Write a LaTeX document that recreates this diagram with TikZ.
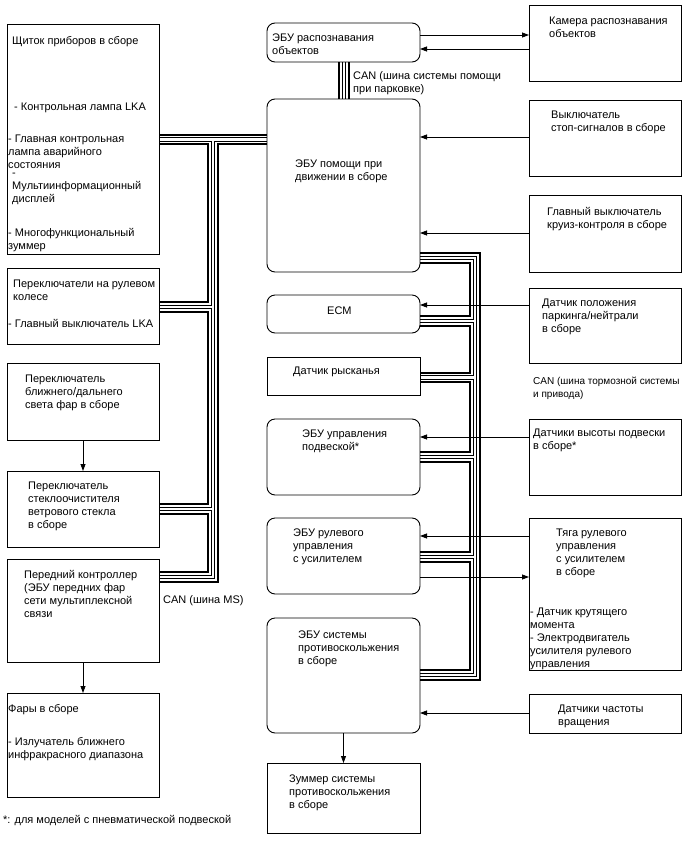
\documentclass[tikz,border=0pt]{standalone}
\usepackage{fontspec}
\setmainfont{Liberation Sans}
\usepackage{tikz}
\usetikzlibrary{arrows.meta}

\tikzset{
  box/.style={draw, line width=0.9pt, anchor=north west, inner sep=0pt, outer sep=0pt},
  ecu/.style={box, rounded corners=8pt},
  txt/.style={anchor=north west, inner sep=0pt, align=left, yshift=-2pt,
    font=\fontsize{11}{13}\selectfont},
  link/.style={line width=0.8pt},
  arr/.style={link, -{Triangle[length=7pt,width=5pt]}},
  canthick/.style={line width=2pt},
  canthin/.style={line width=0.8pt},
}

\begin{document}
\begin{tikzpicture}[x=1pt, y=-1pt]

    \useasboundingbox (0,0) rectangle (688,852);

    % Left column
    \node[box, minimum width=152pt, minimum height=230pt] (cluster) at (7,24) {};
    \node[box, minimum width=152pt, minimum height=76pt] (steer) at (7,268) {};
    \node[box, minimum width=152pt, minimum height=77pt] (beam) at (7,363) {};
    \node[box, minimum width=152pt, minimum height=76pt] (wiper) at (7,471) {};
    \node[box, minimum width=152pt, minimum height=103pt] (front) at (7,559) {};
    \node[box, minimum width=152pt, minimum height=104pt] (lamps) at (7,693) {};

    \node[txt] (clusterlbl) at (12,34) {Щиток приборов в сборе};
    \node[txt] (lkalamp) at (14,101) {- Контрольная лампа LKA};
    \node[txt] (masterlamp) at (8,133) {- Главная контрольная\\лампа аварийного\\состояния};
    \node[txt] (mid) at (12,171) {-\\Мультиинформационный\\дисплей};
    \node[txt] (mbuzz) at (8,226) {- Многофункциональный\\зуммер};
    \node[txt] (steerlbl) at (13,278) {Переключатели на рулевом\\колесе};
    \node[txt] (lkasw) at (8,317) {- Главный выключатель LKA};
    \node[txt] (beamlbl) at (25,373) {Переключатель\\ближнего/дальнего\\света фар в сборе};
    \node[txt] (wiperlbl) at (28,480) {Переключатель\\стеклоочистителя\\ветрового стекла\\в сборе};
    \node[txt] (frontlbl) at (24,568) {Передний контроллер\\(ЭБУ передних фар\\сети мультиплексной\\связи};
    \node[txt] (lampslbl) at (8,702) {Фары в сборе};
    \node[txt] (nir) at (8,735) {- Излучатель ближнего\\инфракрасного диапазона};
    \node[txt] (note) at (3,813) {*: для моделей с пневматической подвеской};

    % Middle column
    \node[ecu, minimum width=153pt, minimum height=39pt] (objecu) at (267,23) {};
    \node[ecu, minimum width=153pt, minimum height=173pt] (drive) at (267,99) {};
    \node[ecu, minimum width=153pt, minimum height=38pt] (ecm) at (267,295) {};
    \node[box, minimum width=153pt, minimum height=38pt] (yaw) at (267,357) {};
    \node[ecu, minimum width=153pt, minimum height=76pt] (susp) at (267,419) {};
    \node[ecu, minimum width=153pt, minimum height=76pt] (eps) at (267,518) {};
    \node[ecu, minimum width=153pt, minimum height=115pt] (skid) at (267,618) {};
    \node[box, minimum width=153pt, minimum height=70pt] (buzz) at (267,763) {};

    \node[txt] (objecului) at (272,32) {ЭБУ распознавания\\объектов};
    \node[txt] (drivelbl) at (295,158) {ЭБУ помощи при\\движении в сборе};
    \node[txt] (ecmlbl) at (327,305) {ECM};
    \node[txt] (yawlbl) at (293,365) {Датчик рысканья};
    \node[txt] (susplbl) at (302,428) {ЭБУ управления\\подвеской*};
    \node[txt] (epslbl) at (293,527) {ЭБУ рулевого\\управления\\с усилителем};
    \node[txt] (skidlbl) at (298,629) {ЭБУ системы\\противоскольжения\\в сборе};
    \node[txt] (buzzlbl) at (289,773) {Зуммер системы\\противоскольжения\\в сборе};

    % Right column
    \node[box, minimum width=152pt, minimum height=76pt] (cam) at (529,5) {};
    \node[box, minimum width=152pt, minimum height=76pt] (stop) at (529,100) {};
    \node[box, minimum width=152pt, minimum height=77pt] (cruise) at (529,195) {};
    \node[box, minimum width=152pt, minimum height=75pt] (park) at (529,288) {};
    \node[box, minimum width=152pt, minimum height=76pt] (height) at (529,419) {};
    \node[box, minimum width=152pt, minimum height=152pt] (gear) at (529,518) {};
    \node[box, minimum width=152pt, minimum height=39pt] (speed) at (529,694) {};

    \node[txt] (camlbl) at (549,15) {Камера распознавания\\объектов};
    \node[txt] (stoplbl) at (551,109) {Выключатель\\стоп-сигналов в сборе};
    \node[txt] (cruiselbl) at (547,205) {Главный выключатель\\круиз-контроля в сборе};
    \node[txt] (parklbl) at (542,297) {Датчик положения\\паркинга/нейтрали\\в сборе};
    \node[txt] (heightlbl) at (533,427) {Датчики высоты подвески\\в сборе*};
    \node[txt] (gearlbl) at (556,527) {Тяга рулевого\\управления\\с усилителем\\в сборе};
    \node[txt] (gearparts) at (530,606) {- Датчик крутящего\\момента\\- Электродвигатель\\усилителя рулевого\\управления};
    \node[txt] (speedlbl) at (558,703) {Датчики частоты\\вращения};

    % Bus labels
    \node[txt] (canpark) at (353,69) {CAN (шина системы помощи\\при парковке)};
    \node[txt, font=\fontsize{10}{12.5}\selectfont] (canbrake) at (533,375) {CAN (шина тормозной системы\\и привода)};
    \node[txt] (canms) at (163,593) {CAN (шина MS)};

    % CAN MS
    \draw[canthick] (cluster.east |- 0,134.5) -- (drive.west |- 0,134.5);
    \draw[canthin] (cluster.east |- 0,137.5) -- (drive.west |- 0,137.5);
    \foreach \src/\dst/\ya/\yb in {cluster/steer/141/302, steer/wiper/308.5/504, wiper/front/510.5/572} {
        \draw[canthin] (\src.east |- 0,\ya) -| (211,\yb+3) -- (\dst.east |- 0,\yb+3);
        \draw[canthick] (\src.east |- 0,\ya+3) -| (208,\yb) -- (\dst.east |- 0,\yb);
    }
    \draw[canthin] (drive.west |- 0,141) -| (214.5,578.5) -- (front.east |- 0,578.5);
    \draw[canthick] (drive.west |- 0,144) -| (217.5,581.5) -- (front.east |- 0,581.5);

    % CAN parking assist
    \foreach \x/\w in {339/canthick, 342/canthin, 345.5/canthin, 348.5/canthick}
        \draw[\w] (objecu.south -| \x,0) -- (drive.north -| \x,0);

    % CAN brake and drive
    \draw[canthick] (drive.east |- 0,253) -| (479.5,679.5) -- (skid.east |- 0,679.5);
    \draw[canthin] (drive.east |- 0,256) -| (476.5,676.5) -- (skid.east |- 0,676.5);
    \foreach \src/\dst/\ya/\yb in {drive/ecm/259.5/316, ecm/yaw/322.5/372.5, yaw/susp/379/452,
                                   susp/eps/458.5/552, eps/skid/558.5/670} {
        \draw[canthin] (\src.east |- 0,\ya) -| (473,\yb+3) -- (\dst.east |- 0,\yb+3);
        \draw[canthick] (\src.east |- 0,\ya+3) -| (470,\yb) -- (\dst.east |- 0,\yb);
    }

    % Signal lines
    \draw[arr] (objecu.east |- 0,35) -- (cam.west |- 0,35);
    \draw[arr] (cam.west |- 0,49) -- (objecu.east |- 0,49);
    \draw[arr] (stop.west |- 0,137) -- (drive.east |- 0,137);
    \draw[arr] (cruise.west |- 0,233) -- (drive.east |- 0,233);
    \draw[arr] (park.west |- 0,305) -- (ecm.east |- 0,305);
    \draw[arr] (height.west |- 0,437) -- (susp.east |- 0,437);
    \draw[arr] (gear.west |- 0,536) -- (eps.east |- 0,536);
    \draw[arr] (eps.east |- 0,577) -- (gear.west |- 0,577);
    \draw[arr] (speed.west |- 0,713) -- (skid.east |- 0,713);
    \draw[arr] (beam.south) -- (wiper.north);
    \draw[arr] (front.south) -- (lamps.north);
    \draw[arr] (skid.south) -- (buzz.north);

\end{tikzpicture}
\end{document}
